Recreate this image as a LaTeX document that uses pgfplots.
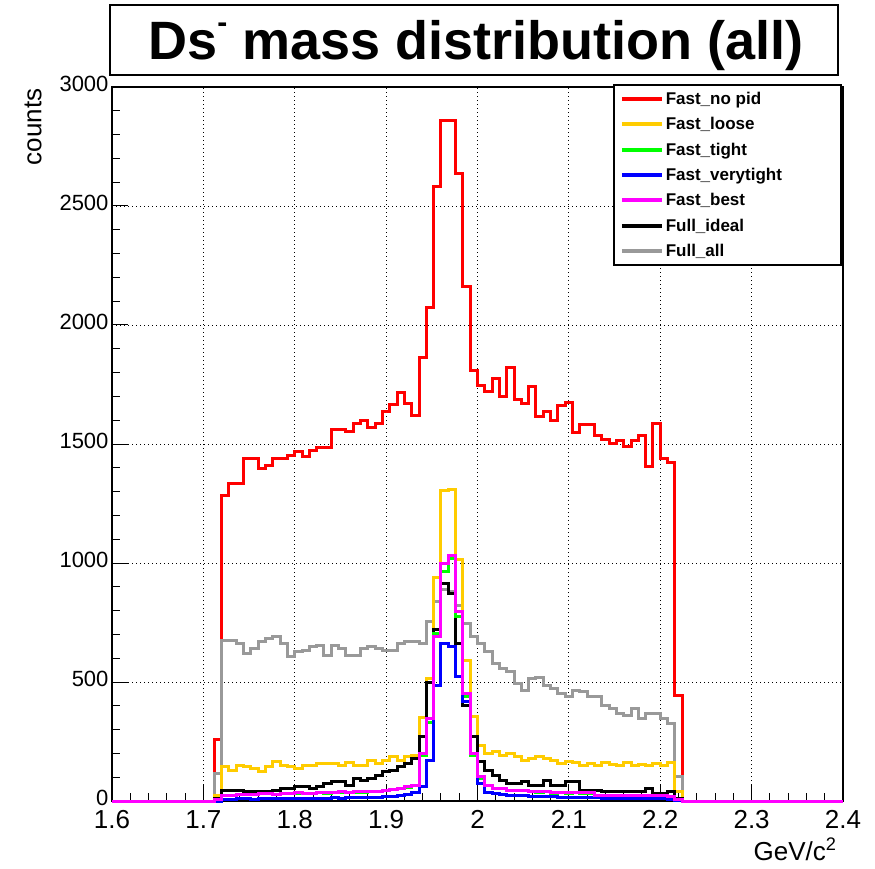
\documentclass[border=0pt]{standalone}
\usepackage{fontspec}
\setmainfont{Liberation Sans}
\usepackage{pgfplots}
\usepackage{pgfplotstable}
\pgfplotsset{compat=1.18}
\definecolor{cred}{RGB}{255,0,0}
\definecolor{cyel}{RGB}{255,204,0}
\definecolor{cgrn}{RGB}{0,255,0}
\definecolor{cblu}{RGB}{0,0,255}
\definecolor{cmag}{RGB}{255,0,255}
\definecolor{cgry}{RGB}{153,153,153}
\pgfplotstableread{
x     red   yel   grn   blu  mag   blk  gry
1.600 0     0     0     0    0     0    0
1.712 260   25    3     0    5     10   116
1.720 1285  144   22    8    25    46   673
1.728 1334  130   24    8    25    46   673
1.736 1334  151   26    9    28    46   662
1.744 1439  144   27    9    28    39   620
1.752 1439  137   26    8    28    39   641
1.760 1397  123   30    10   32    39   669
1.768 1411  144   31    9    32    39   683
1.776 1439  165   27    10   28    46   690
1.784 1439  151   30    10   32    53   662
1.792 1453  144   31    11   32    53   606
1.800 1467  137   33    10   35    60   627
1.808 1446  151   30    11   32    60   634
1.816 1474  151   31    12   32    53   648
1.824 1485  158   34    11   35    60   655
1.832 1485  158   33    12   35    74   613
1.840 1561  158   34    13   35    81   655
1.848 1561  151   36    12   38    81   641
1.856 1551  161   34    14   35    67   613
1.864 1586  151   37    13   38    95   613
1.872 1600  151   36    15   38    88   641
1.880 1570  172   38    15   40    95   648
1.888 1586  158   40    16   42    109  641
1.896 1638  169   44    17   46    123  634
1.904 1666  186   48    19   50    130  634
1.912 1718  169   51    22   53    144  662
1.920 1669  186   58    28   60    158  669
1.928 1620  193   64    35   67    180  669
1.936 1865  352   190   60   200   270  662
1.944 2072  515   330   172  347   500  756
1.952 2583  940   704   487  690   720  838
1.960 2860  1306  966   661  998   912  890
1.968 2860  1310  1020  648  1033  870  880
1.976 2635  1015  774   525  795   661  820
1.984 2162  592   440   420  452   400  746
1.992 1810  354   190   200  200   270  690
2.000 1745  235   95    75   102   165  662
2.008 1722  200   65    35   67    130  627
2.016 1775  207   51    30   53    109  578
2.024 1701  193   53    27   53    88   557
2.032 1822  200   44    25   46    74   543
2.040 1687  186   46    23   46    74   494
2.048 1670  172   43    22   46    81   466
2.056 1743  179   41    20   39    67   515
2.064 1617  186   37    20   39    67   519
2.072 1635  179   39    18   39    88   487
2.080 1600  172   33    17   35    67   473
2.088 1663  158   35    16   35    67   452
2.096 1673  165   32    16   35    81   438
2.104 1547  161   34    15   35    81   466
2.112 1583  151   33    15   35    46   459
2.120 1583  158   31    14   35    46   438
2.128 1537  151   24    13   25    46   438
2.136 1519  161   25    12   25    39   403
2.144 1502  155   23    12   25    39   389
2.152 1513  150   24    11   25    39   368
2.160 1491  160   23    11   25    39   361
2.168 1513  150   24    10   25    39   389
2.176 1537  155   22    10   25    39   347
2.184 1405  150   23    10   25    53   368
2.192 1586  158   24    9    25    32   368
2.200 1439  150   22    9    25    32   347
2.208 1421  160   20    8    18    40   326
2.216 445   39    6     3    8     10   102
2.224 0     0     0     0    0     0    0
2.400 0     0     0     0    0     0    0
}\histdata
\begin{document}
\begin{tikzpicture}[x=1pt,y=1pt]
\useasboundingbox (0,0) rectangle (875,868);
\draw[line width=2.5pt] (110,793) rectangle (838,863);
\node[anchor=base, font=\fontsize{54}{60}\selectfont\bfseries] at (476,808) {Ds\raisebox{0.5em}{\fontsize{30}{30}\selectfont -} mass distribution (all)};
\begin{axis}[
  at={(112pt,67pt)}, anchor=south west,
  width=731pt, height=714pt, scale only axis,
  xmin=1.6, xmax=2.4, ymin=0, ymax=3000,
  xtick={1.6,1.7,1.8,1.9,2.0,2.1,2.2,2.3,2.4},
  ytick={0,500,1000,1500,2000,2500,3000},
  minor x tick num=4, minor y tick num=4,
  xtick pos=left, ytick pos=left,
  tick align=inside,
  major tick length=16pt, minor tick length=8pt,
  tick style={black, line width=1pt},
  axis line style={line width=2pt},
  grid=major,
  grid style={black, line width=0.8pt, dash pattern=on 1pt off 3pt},
  scaled y ticks=false,
  /pgf/number format/assume math mode=true,
  /pgf/number format/1000 sep={},
  xticklabel style={font=\fontsize{26}{30}\selectfont, yshift=-6pt},
  yticklabel style={font=\fontsize{22}{26}\selectfont, yshift=3pt},
  clip=false,
  legend style={at={(1,1)}, anchor=north east, xshift=-1pt, yshift=3pt,
    draw=black, line width=2.5pt, fill=white,
    font=\fontsize{17}{20}\selectfont\bfseries,
    cells={anchor=west}, row sep=7.5pt, inner xsep=6pt, inner ysep=5pt},
  legend image code/.code={\draw[#1, line width=4pt] (0pt,0pt) -- (40pt,0pt);},
  every axis plot/.append style={const plot mark left, no markers, line width=3pt},
]
\addlegendimage{cred}\addlegendentry{\makebox[167pt][l]{Fast\_no pid}}
\addlegendimage{cyel}\addlegendentry{Fast\_loose}
\addlegendimage{cgrn}\addlegendentry{Fast\_tight}
\addlegendimage{cblu}\addlegendentry{Fast\_verytight}
\addlegendimage{cmag}\addlegendentry{Fast\_best}
\addlegendimage{black}\addlegendentry{Full\_ideal}
\addlegendimage{cgry}\addlegendentry{Full\_all}
\addplot[cred, forget plot] table[x=x, y=red] {\histdata};
\addplot[cgry, forget plot] table[x=x, y=gry] {\histdata};
\addplot[cyel, forget plot] table[x=x, y=yel] {\histdata};
\addplot[black, forget plot] table[x=x, y=blk] {\histdata};
\addplot[cgrn, forget plot] table[x=x, y=grn] {\histdata};
\addplot[cblu, forget plot] table[x=x, y=blu] {\histdata};
\addplot[cmag, forget plot] table[x=x, y=mag] {\histdata};
\end{axis}
\node[rotate=90, anchor=east, font=\fontsize{26}{30}\selectfont] at (33,783) {counts};
\node[anchor=base east, font=\fontsize{26}{30}\selectfont] at (840,8) {GeV/c\textsuperscript{2}};
\end{tikzpicture}
\end{document}
